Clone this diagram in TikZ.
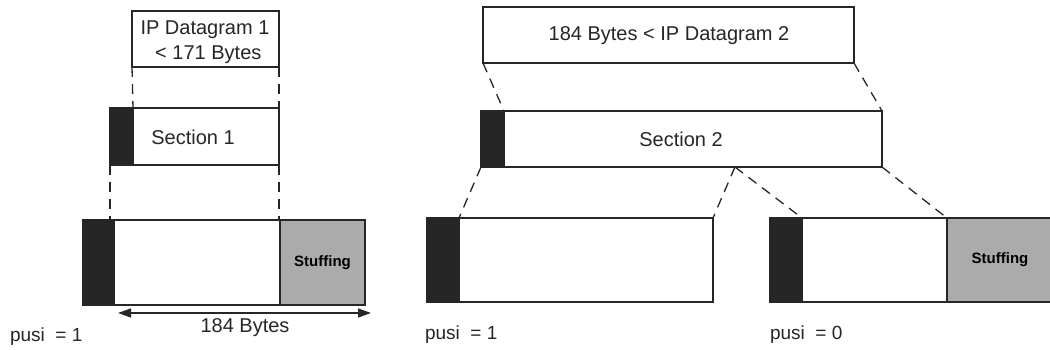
\documentclass[tikz,border=0pt]{standalone}
\usepackage{fontspec}
\setmainfont{Liberation Sans}
\usetikzlibrary{arrows.meta,calc}
\begin{document}
\begin{tikzpicture}[x=1pt,y=-1pt,
  every node/.style={inner sep=0pt,outer sep=0pt},
  box/.style={draw=black!85,line width=1.3pt,fill=white,anchor=north west},
  hdr/.style={draw=black!85,line width=1.3pt,fill=black!85,anchor=north west},
  stuff/.style={draw=black!85,line width=1.3pt,fill=black!33,anchor=north west,font=\fontsize{15}{18}\selectfont\bfseries},
  txt/.style={font=\fontsize{20}{24}\selectfont,text=black!85},
  ptxt/.style={font=\fontsize{19}{22}\selectfont,text=black!85,anchor=west},
  conn/.style={draw=black!85,line width=1.3pt,dash pattern=on 10pt off 7pt},
  dim/.style={draw=black!85,line width=1.3pt,{Triangle[length=13pt,width=9pt]}-{Triangle[length=13pt,width=9pt]}}]
\useasboundingbox (0,0) rectangle (1050,350);

% ---------- left group ----------
\node[box,minimum width=147pt,minimum height=56pt] (d1) at (132,11) {};
\node[txt,align=center] (d1t) at (205,42) {IP Datagram 1\\[1pt]\,\,\textless{} 171 Bytes};

\node[hdr,minimum width=23pt,minimum height=57pt] (s1h) at (110,108) {};
\node[box,minimum width=146pt,minimum height=57pt] (s1w) at (133,108) {};
\node[txt] (s1t) at (193,137) {Section 1};

\node[hdr,minimum width=31pt,minimum height=85pt] (b1h) at (83,220) {};
\node[box,minimum width=166pt,minimum height=85pt] (b1w) at (114,220) {};
\node[stuff,minimum width=85pt,minimum height=85pt] (b1s) at (280,220) {Stuffing};

\draw[conn] (d1.south west) -- (s1w.north west);
\draw[conn] (d1.south east) -- (s1w.north east);
\draw[conn] (s1h.south west) -- (s1h.south west |- b1h.north);
\draw[conn] (s1w.south east) -- (s1w.south east |- b1w.north);

\coordinate (a1) at (118,313);
\coordinate (a2) at (371,313);
\draw[dim] (a1) -- (a2);
\node[txt] (bytes) at (245,328) {184 Bytes};
\node[ptxt] (p1) at (10,337) {pusi\ \ = 1};

% ---------- right group ----------
\node[box,minimum width=371pt,minimum height=56pt] (d2) at (483,7) {};
\node[txt] (d2t) at (669,36) {184 Bytes \textless{} IP Datagram 2};

\node[hdr,minimum width=23pt,minimum height=56pt] (s2h) at (481,111) {};
\node[box,minimum width=378pt,minimum height=56pt] (s2w) at (504,111) {};
\node[txt] (s2t) at (681,139) {Section 2};

\node[hdr,minimum width=32pt,minimum height=84pt] (b2h) at (427,218) {};
\node[box,minimum width=254pt,minimum height=84pt] (b2w) at (459,218) {};

\node[hdr,minimum width=32pt,minimum height=84pt] (c2h) at (770,218) {};
\node[box,minimum width=145pt,minimum height=84pt] (c2w) at (802,218) {};
\node[stuff,minimum width=106pt,minimum height=84pt] (c2s) at (947,218) {Stuffing};

\coordinate (apex) at ($(s2w.south west)!0.611!(s2w.south east)$);
\draw[conn] (d2.south west) -- (s2w.north west);
\draw[conn] (d2.south east) -- (s2w.north east);
\draw[conn] (s2h.south west) -- (b2w.north west);
\draw[conn] (apex) -- (b2w.north east);
\draw[conn] (apex) -- (c2w.north west);
\draw[conn] (s2w.south east) -- (c2s.north west);

\node[ptxt] (p2) at (425,335) {pusi\ \ = 1};
\node[ptxt] (p3) at (770,335) {pusi\ \ = 0};
\end{tikzpicture}
\end{document}
